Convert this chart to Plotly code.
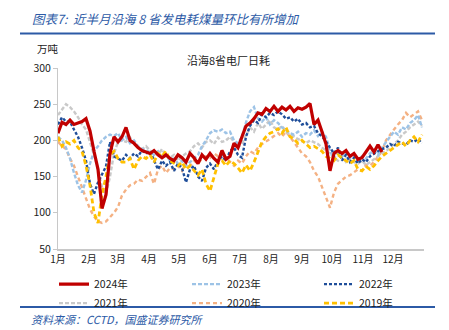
import plotly.graph_objects as go

# ---------------- data (day of year, step 4) ----------------
days = list(range(0, 365, 4))  # 92 points

y2024 = [210, 225, 222, 228, 222, 224, 226, 230, 213, 185, 160, 106, 125, 182, 205, 198,
         205, 218, 200, 196, 190, 186, 184, 182, 186, 180, 176, 180, 175, 172, 180, 176,
         170, 182, 176, 168, 180, 174, 182, 175, 170, 186, 174, 178, 196, 190, 205, 220,
         224, 230, 238, 236, 244, 240, 247, 240, 246, 242, 247, 240, 245, 243, 246, 251,
         222, 228, 212, 195, 158, 182, 186, 182, 186, 178, 182, 174, 176, 184, 192, 184,
         194, 184]

y2023 = [205, 200, 190, 175, 155, 138, 128, 145, 168, 185, 192, 200, 205, 208, 206, 210,
         200, 205, 196, 200, 192, 188, 186, 184, 180, 185, 176, 180, 172, 175, 168, 172,
         165, 170, 175, 180, 192, 200, 210, 214, 212, 215, 210, 212, 200, 196, 205, 225,
         240, 246, 230, 226, 232, 222, 228, 224, 218, 214, 210, 208, 212, 205, 210, 208,
         214, 206, 212, 205, 185, 175, 182, 178, 185, 176, 180, 172, 178, 175, 182, 186,
         180, 190, 198, 205, 212, 208, 218, 215, 224, 228, 235, 218]

y2022 = [222, 232, 226, 226, 215, 205, 190, 172, 140, 126, 142, 152, 164, 198, 178, 175,
         172, 180, 175, 182, 178, 186, 182, 185, 172, 160, 172, 165, 170, 158, 168, 162,
         142, 160, 165, 150, 144, 162, 168, 160, 172, 178, 172, 185, 190, 180, 176, 205,
         220, 228, 224, 236, 232, 238, 235, 240, 236, 230, 232, 226, 230, 222, 224, 218,
         220, 210, 206, 198, 190, 182, 190, 172, 180, 170, 176, 168, 174, 170, 178, 182,
         185, 188, 190, 195, 192, 198, 196, 194, 200, 198, 202, 196]

y2021 = [235, 242, 250, 246, 240, 232, 222, 215, 198, 180, 160, 135, 126, 150, 182, 198,
         200, 198, 204, 196, 190, 188, 192, 186, 183, 180, 188, 178, 176, 180, 172, 178,
         182, 185, 192, 196, 190, 198, 200, 195, 204, 198, 200, 205, 198, 190, 196, 208,
         218, 212, 224, 216, 222, 228, 218, 215, 220, 212, 208, 205, 202, 200, 196, 200,
         198, 195, 190, 186, 182, 176, 172, 178, 170, 174, 170, 168, 172, 166, 170, 175,
         178, 182, 185, 190, 195, 200, 208, 212, 218, 222, 226, 220]

y2020 = [198, 192, 188, 175, 165, 150, 135, 122, 105, 95, 88, 86, 88, 94, 100, 108,
         124, 132, 138, 140, 146, 144, 150, 155, 140, 160, 165, 155, 162, 160, 165, 158,
         170, 165, 172, 168, 175, 178, 176, 182, 178, 185, 176, 170, 165, 172, 168, 178,
         185, 182, 190, 195, 198, 202, 206, 210, 205, 212, 205, 198, 190, 182, 178, 170,
         158, 150, 135, 120, 107, 128, 140, 145, 150, 152, 156, 160, 158, 166, 165, 170,
         178, 185, 200, 208, 215, 222, 228, 238, 232, 236, 240, 228]

y2019 = [205, 192, 198, 195, 200, 190, 185, 165, 138, 100, 86, 125, 150, 180, 185, 175,
         170, 170, 175, 160, 172, 178, 175, 180, 170, 182, 178, 185, 172, 168, 165, 170,
         160, 165, 158, 152, 160, 140, 130, 150, 168, 172, 165, 172, 168, 162, 155, 166,
         158, 170, 185, 198, 205, 210, 212, 216, 210, 218, 205, 202, 196, 200, 195, 190,
         192, 188, 185, 178, 175, 172, 180, 176, 172, 168, 172, 160, 158, 164, 160, 165,
         172, 178, 182, 186, 190, 195, 198, 192, 200, 205, 198, 208]

years = ["2024年", "2023年", "2022年", "2021年", "2020年", "2019年"]
month_starts = [0, 31, 60, 91, 121, 152, 182, 213, 244, 274, 305, 335]
month_labels = ["1月", "2月", "3月", "4月", "5月", "6月", "7月", "8月", "9月", "10月", "11月", "12月"]

# ---------------- geometry helpers ----------------
W, H = 449, 330
L, R, T, B = 58, 424, 68, 252


def px(x):
    return (x - L) / (R - L)


def py(y):
    return (B - y) / (B - T)


FONT = "Noto Sans CJK SC"
BLUE = "#2C5AA6"

styles = {
    "2024年": dict(color="#C00000", width=3.2, dash="solid"),
    "2023年": dict(color="#9DC3E6", width=2.4, dash="4px,2px"),
    "2022年": dict(color="#1F4E9A", width=2.4, dash="3px,2px"),
    "2021年": dict(color="#C9C9C9", width=2.4, dash="4px,2px"),
    "2020年": dict(color="#F4B183", width=2.4, dash="4px,3px"),
    "2019年": dict(color="#FFC000", width=2.8, dash="5px,3px"),
}
series = {
    "2024年": y2024, "2023年": y2023, "2022年": y2022,
    "2021年": y2021, "2020年": y2020, "2019年": y2019,
}
# legend column for each series: (legend id, rank)
legend_slot = {
    "2024年": ("legend", 1), "2021年": ("legend", 2),
    "2023年": ("legend2", 1), "2020年": ("legend2", 2),
    "2022年": ("legend3", 1), "2019年": ("legend3", 2),
}
draw_order = ["2020年", "2021年", "2023年", "2022年", "2019年", "2024年"]

fig = go.Figure()
for name in draw_order:
    vals = series[name]
    lg, rank = legend_slot[name]
    fig.add_trace(go.Scatter(
        x=days[:len(vals)], y=vals, mode="lines", name=name,
        line=styles[name], legend=lg, legendrank=rank,
    ))

leg_common = dict(
    orientation="v", xanchor="left", yanchor="top",
    font=dict(family=FONT, size=10.5, color="#222222"),
    itemwidth=30, tracegroupgap=0, bgcolor="rgba(0,0,0,0)",
)
LEG_TOP = 273
fig.update_layout(
    width=W, height=H,
    margin=dict(l=L, r=W - R, t=T, b=H - B),
    paper_bgcolor="white", plot_bgcolor="white",
    font=dict(family=FONT, size=10, color="#333333"),
    showlegend=True,
    legend=dict(x=px(54), y=py(LEG_TOP), **leg_common),
    legend2=dict(x=px(187), y=py(LEG_TOP), **leg_common),
    legend3=dict(x=px(319), y=py(LEG_TOP), **leg_common),
    xaxis=dict(
        range=[0, 366], tickmode="array", tickvals=month_starts, ticktext=month_labels,
        showline=True, linecolor="#C8C8C8", linewidth=1.5, showgrid=False, zeroline=False,
        ticks="", tickfont=dict(size=10, color="#222222"),
    ),
    yaxis=dict(
        range=[50, 300], dtick=50, showline=True, linecolor="#C8C8C8", linewidth=1,
        showgrid=False, zeroline=False, ticks="outside", ticklen=4, tickcolor="#C8C8C8",
        tickfont=dict(size=10.5, color="#222222"),
    ),
)

annos = [
    dict(x=px(30), y=py(18), text="<i>图表7:  近半月沿海 8 省发电耗煤量环比有所增加</i>",
         xanchor="left", yanchor="middle", font=dict(size=12.5, color=BLUE)),
    dict(x=px(35), y=py(48), text="万吨", xanchor="left", yanchor="middle",
         font=dict(size=10.5, color="#222222")),
    dict(x=px(228), y=py(60), text="沿海8省电厂日耗", xanchor="center", yanchor="middle",
         font=dict(size=11, color="#222222")),
    dict(x=px(30), y=py(314), text="<i>资料来源：CCTD，国盛证券研究所</i>",
         xanchor="left", yanchor="top", borderpad=0, font=dict(size=11, color=BLUE)),
]
for a in annos:
    a.update(xref="paper", yref="paper", showarrow=False)
    fig.add_annotation(**a)

for yy in (33, 311):
    fig.add_shape(type="line", xref="paper", yref="paper",
                  x0=px(20), x1=px(435), y0=py(yy), y1=py(yy),
                  line=dict(color=BLUE, width=2))

fig.write_html("out.html")
